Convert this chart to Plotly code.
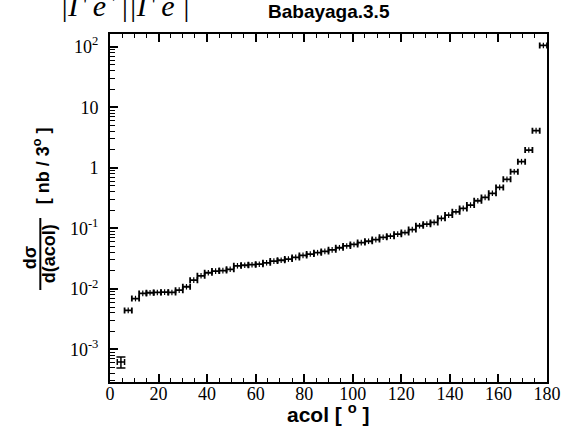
import plotly.graph_objects as go

# --- data (3-degree bins of acollinearity) ---
bin_lo = [3, 6, 9, 12, 15, 18, 21, 24, 27, 30, 33, 36, 39, 42, 45, 48, 51, 54, 57,
          60, 63, 66, 69, 72, 75, 78, 81, 84, 87, 90, 93, 96, 99, 102, 105, 108, 111,
          114, 117, 120, 123, 126, 129, 132, 135, 138, 141, 144, 147, 150, 153, 156,
          159, 162, 165, 168, 171, 174, 177]
dsigma = [6.2e-4, 4.4e-3, 6.9e-3, 8.4e-3, 8.6e-3, 8.7e-3, 8.8e-3, 8.7e-3, 9.5e-3,
          1.08e-2, 1.39e-2, 1.64e-2, 1.84e-2, 1.96e-2, 2.0e-2, 2.1e-2, 2.4e-2, 2.45e-2,
          2.5e-2, 2.55e-2, 2.69e-2, 2.87e-2, 2.96e-2, 3.1e-2, 3.3e-2, 3.56e-2, 3.75e-2,
          3.95e-2, 4.15e-2, 4.4e-2, 4.77e-2, 5.1e-2, 5.4e-2, 5.8e-2, 6.1e-2, 6.5e-2,
          7.1e-2, 7.4e-2, 8.0e-2, 8.5e-2, 9.5e-2, 0.110, 0.117, 0.125, 0.146, 0.165,
          0.187, 0.213, 0.242, 0.285, 0.324, 0.378, 0.474, 0.643, 0.861, 1.26, 1.96,
          4.1, 105.0]
first_bin_err = [1.3e-4]
bin_width = 3.0

y_tickvals = [1e-3, 1e-2, 1e-1, 1, 10, 100]
y_ticktext = ["10<sup>-3</sup>", "10<sup>-2</sup>", "10<sup>-1</sup>", "1", "10", "10<sup>2</sup>"]
x_tickvals = [0, 20, 40, 60, 80, 100, 120, 140, 160, 180]

x_center = [b + bin_width / 2 for b in bin_lo]
half_w = [bin_width / 2] * len(bin_lo)

fig = go.Figure()
# first bin (with vertical error)
fig.add_trace(go.Scatter(
    x=x_center[:1], y=dsigma[:1], mode="markers",
    marker=dict(symbol="line-ns", size=1, color="black", line=dict(width=1.5, color="black")),
    error_x=dict(type="data", array=half_w[:1], color="black", thickness=1.5, width=3),
    error_y=dict(type="data", array=first_bin_err, color="black", thickness=1.5, width=4.5),
    showlegend=False, hoverinfo="skip"))
fig.add_trace(go.Scatter(
    x=x_center[1:], y=dsigma[1:], mode="markers",
    marker=dict(symbol="line-ns", size=4, color="black", line=dict(width=1.2, color="black")),
    error_x=dict(type="data", array=half_w[1:], color="black", thickness=1.8, width=3),
    showlegend=False, hoverinfo="skip"))

minor_y = [m * 10 ** d for d in range(-4, 3) for m in range(2, 10)
           if 10 ** -3.54 <= m * 10 ** d <= 10 ** 2.21]

serif = "Liberation Serif"
sans = "Liberation Sans"

fig.update_layout(
    width=573, height=434,
    margin=dict(l=110, r=24, t=34, b=52),
    paper_bgcolor="white", plot_bgcolor="white",
    xaxis=dict(range=[0, 180], tickmode="array", tickvals=x_tickvals,
               ticks="inside", ticklen=8, tickwidth=1.5, tickcolor="black",
               minor=dict(dtick=5, tick0=0, ticks="inside", ticklen=4, tickwidth=1, tickcolor="black"),
               showline=True, linewidth=2, linecolor="black", mirror="ticks",
               showgrid=False, zeroline=False, ticklabelstandoff=-6,
               tickfont=dict(family=serif, size=18, color="black")),
    yaxis=dict(type="log", range=[-3.54, 2.21], tickmode="array",
               tickvals=y_tickvals, ticktext=y_ticktext,
               ticks="inside", ticklen=8, tickwidth=1.5, tickcolor="black",
               minor=dict(tickmode="array", tickvals=minor_y, ticks="inside", ticklen=5,
                          tickwidth=1, tickcolor="black"),
               showline=True, linewidth=2, linecolor="black", mirror=True,
               showgrid=False, zeroline=False, ticklabelstandoff=6,
               tickfont=dict(family=serif, size=18, color="black")),
)

PL, PR, PT, PB = 110, 549, 34, 382
def px(X):
    return (X - PL) / (PR - PL)
def py(Y):
    return (PB - Y) / (PB - PT)

ann = [
    dict(text="<b>Babayaga.3.5</b>", x=px(330), y=py(12), font=dict(family=sans, size=19)),
    dict(text="<b>acol [ <sup>o</sup> ]</b>", x=px(329), y=py(413), font=dict(family=sans, size=21)),
    dict(text="<b>[ nb / 3<sup>o</sup> ]</b>", x=px(41), y=py(166), textangle=-90,
         font=dict(family=sans, size=18)),
    dict(text="<b>d(acol)</b>", x=px(49), y=py(254), textangle=-90, font=dict(family=sans, size=18)),
    dict(text="<b>dσ</b>", x=px(30), y=py(258), textangle=-90, font=dict(family=sans, size=18)),
    dict(text="<i>|Γ e<sup>+</sup>||Γ e<sup>-</sup>|</i>", x=px(125), y=py(3), font=dict(family=serif, size=30)),
]
for a in ann:
    fig.add_annotation(xref="paper", yref="paper", showarrow=False,
                       xanchor="center", yanchor="middle", font_color="black",
                       **{k: v for k, v in a.items()})
fig.add_shape(type="line", xref="paper", yref="paper",
              x0=px(40), x1=px(40), y0=py(218), y1=py(290),
              line=dict(color="black", width=2))

fig.write_html("out.html")
